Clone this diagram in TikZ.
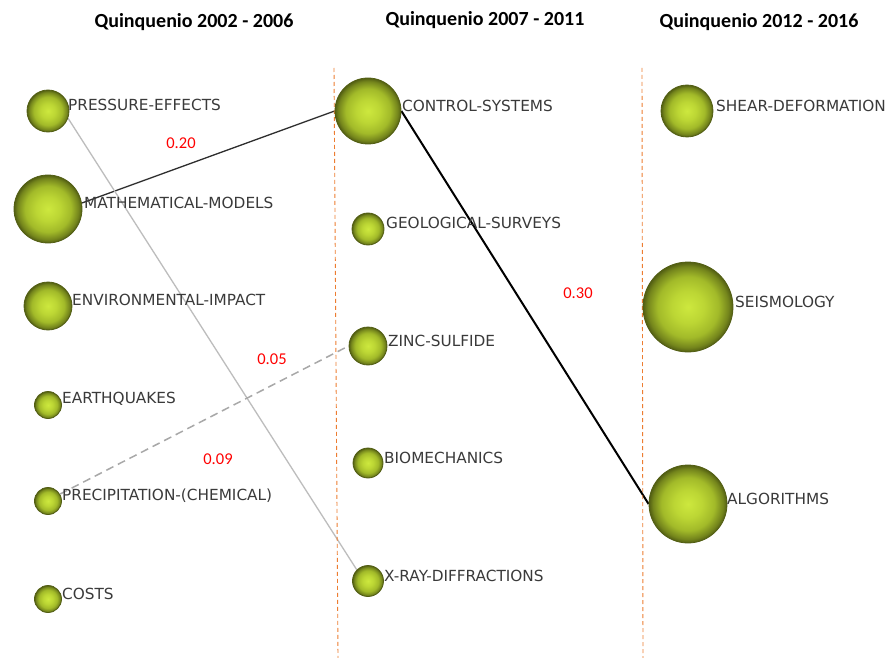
\documentclass[tikz,border=0pt]{standalone}
\usepackage{fontspec}
\setmainfont{DejaVu Sans}
\newfontfamily\calib{Carlito}
\usetikzlibrary{backgrounds}
\definecolor{bubA}{HTML}{CDE83E}
\definecolor{bubB}{HTML}{BCD634}
\definecolor{bubC}{HTML}{A2BA29}
\definecolor{bubD}{HTML}{74851C}
\definecolor{bubE}{HTML}{525E13}
\definecolor{labgray}{HTML}{3A3A3A}
\definecolor{sepor}{HTML}{ED7D31}
\definecolor{edgedark}{HTML}{2E2E2E}
\definecolor{edgelight}{HTML}{BDBDBD}
\definecolor{edgedash}{HTML}{A8A8A8}
\pgfdeclareradialshading{bubble}{\pgfpoint{0bp}{0bp}}{color(0bp)=(bubA);color(9bp)=(bubB);color(17bp)=(bubC);color(22.5bp)=(bubD);color(25bp)=(bubE);color(50bp)=(bubE)}
\begin{document}
\begin{tikzpicture}[x=1pt,y=-1pt,
  bub/.style={circle,inner sep=0pt,shading=bubble,draw=bubE,line width=0.8pt},
  lab/.style={anchor=west,inner sep=0pt,text=labgray,font=\fontsize{15.3}{18}\selectfont},
  head/.style={inner sep=0pt,font=\calib\bfseries\fontsize{20}{24}\selectfont},
  val/.style={inner sep=0pt,text=red,font=\calib\fontsize{16.5}{19}\selectfont},
  sepline/.style={draw=sepor,line width=0.9pt,dash pattern=on 4pt off 3pt}]
\useasboundingbox (0,0) rectangle (892,658);

% headers
\node[head] (h1) at (194,22) {Quinquenio 2002 - 2006};
\node[head] (h2) at (485,20) {Quinquenio 2007 - 2011};
\node[head] (h3) at (759,22) {Quinquenio 2012 - 2016};

% separators
\coordinate (s1a) at (334,68); \coordinate (s1b) at (338,658);
\coordinate (s2a) at (642,68); \coordinate (s2b) at (643,658);
\draw[sepline] (s1a) -- (s1b);
\draw[sepline] (s2a) -- (s2b);

% column 1
\node[bub,minimum size=42pt] (pe) at (48,111) {};
\node[lab] (lpe) at (68,105) {PRESSURE-EFFECTS};
\node[bub,minimum size=68pt] (mm) at (48,209) {};
\node[lab] (lmm) at (84,203) {MATHEMATICAL-MODELS};
\node[bub,minimum size=48pt] (ei) at (48,306) {};
\node[lab] (lei) at (72,300) {ENVIRONMENTAL-IMPACT};
\node[bub,minimum size=27pt] (eq) at (48,405) {};
\node[lab] (leq) at (62,399) {EARTHQUAKES};
\node[bub,minimum size=27pt] (pc) at (48,501) {};
\node[lab] (lpc) at (62,496) {PRECIPITATION-(CHEMICAL)};
\node[bub,minimum size=27pt] (co) at (48,599) {};
\node[lab] (lco) at (62,594) {COSTS};

% column 2
\node[bub,minimum size=66pt] (cs) at (368,111) {};
\node[lab] (lcs) at (402,106) {CONTROL-SYSTEMS};
\node[bub,minimum size=32pt] (gs) at (368,229) {};
\node[lab] (lgs) at (386,223) {GEOLOGICAL-SURVEYS};
\node[bub,minimum size=38pt] (zs) at (368,346) {};
\node[lab] (lzs) at (388,341) {ZINC-SULFIDE};
\node[bub,minimum size=30pt] (bm) at (368,463) {};
\node[lab] (lbm) at (384,458) {BIOMECHANICS};
\node[bub,minimum size=31pt] (xr) at (368,581) {};
\node[lab] (lxr) at (384,576) {X-RAY-DIFFRACTIONS};

% column 3
\node[bub,minimum size=52pt] (sd) at (687,111) {};
\node[lab] (lsd) at (716,106) {SHEAR-DEFORMATION};
\node[bub,minimum size=90pt] (se) at (688,307) {};
\node[lab] (lse) at (735,302) {SEISMOLOGY};
\node[bub,minimum size=78pt] (al) at (688,504) {};
\node[lab] (lal) at (727,499) {ALGORITHMS};

% edges
\begin{pgfonlayer}{background}
\fill[white] (0,0) rectangle (892,658);
\draw[edgedark,line width=1.3pt] (mm.10) -- (cs.west);
\draw[black,line width=2pt] (cs.east) -- (al.west);
\draw[edgelight,line width=1.3pt] (pe.-20) -- (xr.135);
\draw[edgedash,line width=1.5pt,dash pattern=on 8pt off 5pt] (pc.30) -- (zs.west);
\end{pgfonlayer}

% values
\node[val] (v1) at (181,143) {0.20};
\node[val] (v2) at (578,293) {0.30};
\node[val] (v3) at (272,359) {0.05};
\node[val] (v4) at (218,459) {0.09};
\end{tikzpicture}
\end{document}
